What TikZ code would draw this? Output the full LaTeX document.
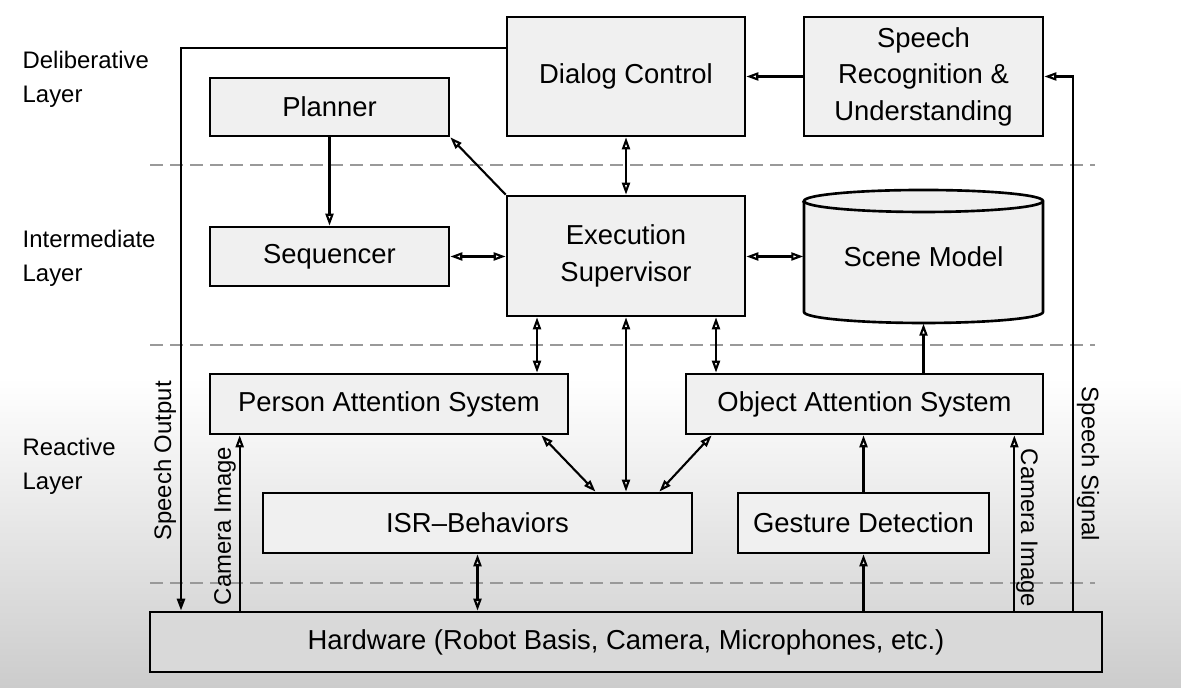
\documentclass[tikz,border=0pt]{standalone}
\usepackage{fontspec}
\setmainfont{Liberation Sans}
\usetikzlibrary{arrows.meta,positioning,calc}
\definecolor{boxgray}{gray}{0.94}
\definecolor{hwgray}{gray}{0.85}
\definecolor{sepgray}{gray}{0.6}

\begin{document}
\begin{tikzpicture}[>={Triangle[open,length=1.2mm,width=0.8mm]},
  blk/.style={draw,line width=0.75pt,fill=boxgray,align=center,inner sep=0pt,font=\fontsize{7.8}{10.4}\selectfont},
  lyr/.style={anchor=west,align=left,inner sep=0pt,font=\fontsize{6.8}{9.7}\selectfont},
  sig/.style={inner sep=0pt,font=\fontsize{6.8}{8}\selectfont},
  con/.style={line width=0.6pt},
  sep/.style={sepgray,line width=0.6pt,dash pattern=on 1.3mm off 0.7mm}]
\useasboundingbox (0,0) rectangle (11.81,6.88);
\fill[white] (0,3.1) rectangle (11.81,6.88);
\shade[top color=white,bottom color=black!20] (0,0) rectangle (11.81,3.1);
\draw[sep] (1.50,5.23) -- (10.95,5.23);
\draw[sep] (1.50,3.43) -- (10.95,3.43);
\draw[sep] (1.50,1.05) -- (10.95,1.05);
\node[lyr] (dl) at (0.22,6.09) {Deliberative\\Layer};
\node[lyr] (il) at (0.22,4.30) {Intermediate\\Layer};
\node[lyr] (rl) at (0.22,2.22) {Reactive\\Layer};
\node[blk,minimum width=2.38cm,minimum height=1.19cm] (dlg) at (6.26,6.115) {Dialog Control};
\node[blk,minimum width=2.39cm,minimum height=1.19cm] (srec) at (9.235,6.115) {Speech\\Recognition \&\\Understanding};
\node[blk,minimum width=2.39cm,minimum height=0.58cm] (plan) at (3.295,5.81) {Planner};
\node[blk,minimum width=2.39cm,minimum height=0.59cm] (seq) at (3.295,4.315) {Sequencer};
\node[blk,minimum width=2.38cm,minimum height=1.2cm] (exs) at (6.26,4.32) {Execution\\Supervisor};
\draw[line width=0.75pt,fill=boxgray] (8.04,4.87) -- (8.04,3.76) arc[start angle=180,end angle=360,x radius=1.195,y radius=0.11] -- (10.43,4.87) arc[start angle=0,end angle=180,x radius=1.195,y radius=0.11] -- cycle;
\draw[line width=0.75pt] (8.04,4.87) arc[start angle=180,end angle=360,x radius=1.195,y radius=0.11];
\node[minimum width=2.39cm,minimum height=1.33cm,inner sep=0pt,font=\fontsize{7.8}{10.4}\selectfont] (scn) at (9.235,4.315) {Scene Model};
\node[blk,minimum width=3.58cm,minimum height=0.6cm] (pas) at (3.89,2.84) {Person Attention System};
\node[blk,minimum width=3.57cm,minimum height=0.6cm] (oas) at (8.645,2.84) {Object Attention System};
\node[blk,minimum width=4.29cm,minimum height=0.6cm] (isr) at (4.775,1.65) {ISR--Behaviors};
\node[blk,minimum width=2.51cm,minimum height=0.6cm] (ges) at (8.635,1.65) {Gesture Detection};
\node[blk,fill=hwgray,minimum width=9.52cm,minimum height=0.6cm] (hw) at (6.26,0.46) {Hardware (Robot Basis, Camera, Microphones, etc.)};
\node[sig,rotate=90] (spo) at (1.65,2.27) {Speech Output};
\node[sig,rotate=90] (cil) at (2.25,1.62) {Camera Image};
\node[sig,rotate=-90] (cir) at (10.27,1.60) {Camera Image};
\node[sig,rotate=-90] (sps) at (10.88,2.24) {Speech Signal};
\coordinate (so) at (1.81,6.40);
\coordinate (ss) at (10.73,0);
\coordinate (ea) at ([xshift=-8.9mm]exs.south);
\coordinate (eb) at ([xshift=9mm]exs.south);
\coordinate (cl) at ([xshift=3.1mm]pas.south west);
\coordinate (cr) at ([xshift=-3mm]oas.south east);
\draw[con,->,line width=0.75pt] (dlg.west |- so) -- (so) -- (so |- hw.north);
\draw[con,->] (hw.north -| ss) |- (srec.east);
\draw[con,->] (srec) -- (dlg);
\draw[con,->] (plan) -- (seq);
\draw[con,->] (exs.north west) -- (plan.south east);
\draw[con,<->] (dlg) -- (exs);
\draw[con,<->] (seq.east) -- (exs.west |- seq.east);
\draw[con,<->] (exs.east |- scn.west) -- (scn.west);
\draw[con,<->] (ea) -- (ea |- pas.north);
\draw[con,<->] (exs.south) -- (exs.south |- isr.north);
\draw[con,<->] (eb) -- (eb |- oas.north);
\draw[con,->] (oas.north -| scn.south) -- (scn.south);
\draw[con,<->] ([xshift=-2.8mm]pas.south east) -- ([xshift=1.18cm]isr.north);
\draw[con,<->] ([xshift=2.7mm]oas.south west) -- ([xshift=-3.4mm]isr.north east);
\draw[con,->] (hw.north -| cl) -- (cl);
\draw[con,<->] (hw.north -| isr.south) -- (isr.south);
\draw[con,->] (hw.north -| ges.south) -- (ges.south);
\draw[con,->] (ges.north) -- (oas.south -| ges.north);
\draw[con,->] (hw.north -| cr) -- (cr);
\end{tikzpicture}
\end{document}
